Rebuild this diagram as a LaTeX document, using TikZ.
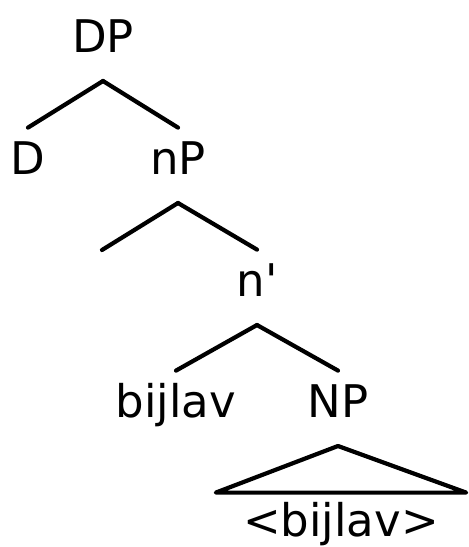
\documentclass[tikz,border=0pt]{standalone}
\usepackage{fontspec}
\setmainfont{DejaVu Sans}
\tikzset{
  lbl/.style={anchor=south,inner sep=0pt,text height=33pt,text depth=0pt,font=\fontsize{45}{54}\selectfont},
  branch/.style={line width=4.2pt,line cap=round,line join=round}
}
\begin{document}
\begin{tikzpicture}[x=1pt,y=-1pt]
			\useasboundingbox (0,0) rectangle (469,547);
			\node[lbl] (dp) at (103,53) {DP};
			\node[lbl] (d) at (28,175) {D};
			\node[lbl] (np) at (178,175) {nP};
			\coordinate (spec) at (102,250);
			\node[lbl] (nbar) at (257,297) {n\textquotesingle};
			\node[lbl] (bij) at (176,418) {bijlav};
			\node[lbl] (nphr) at (338,418) {NP};
			\node[lbl,minimum width=250pt] (roof) at (341,537) {<bijlav>};
			\draw[branch] ([yshift=-28pt]dp.south) -- ([yshift=14pt]d.north);
			\draw[branch] ([yshift=-28pt]dp.south) -- ([yshift=14pt]np.north);
			\draw[branch] ([yshift=-28pt]np.south) -- (spec);
			\draw[branch] ([yshift=-28pt]np.south) -- ([yshift=14pt]nbar.north);
			\draw[branch] ([yshift=-28pt]nbar.south) -- ([yshift=14pt]bij.north);
			\draw[branch] ([yshift=-28pt]nbar.south) -- ([yshift=14pt]nphr.north);
			\draw[branch] ([yshift=-28pt]nphr.south) -- ([yshift=11pt]roof.north west) -- ([yshift=11pt]roof.north east) -- cycle;
		\end{tikzpicture}
\end{document}
